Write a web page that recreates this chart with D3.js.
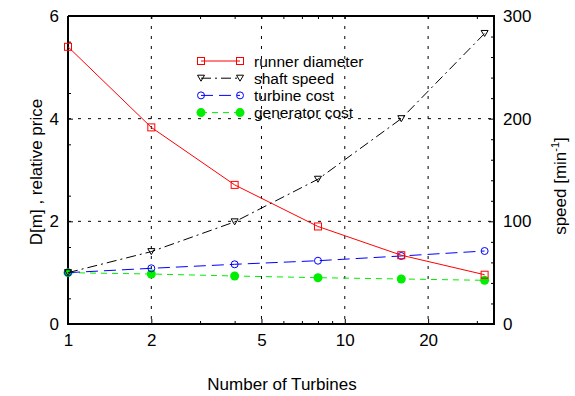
<!DOCTYPE html>
<html>
<head>
<meta charset="utf-8">
<style>
  body { margin: 0; background: #fff; }
  svg text { font-family: "Liberation Sans", Arial, sans-serif; fill: #000; }
</style>
</head>
<body>
<svg id="chart" width="575" height="396"></svg>
<script src="https://d3js.org/d3.v7.min.js"></script>
<script>
var turbines = [1, 2, 4, 8, 16, 32];
var runnerDiameter = [5.40, 3.83, 2.71, 1.90, 1.34, 0.96];
var shaftSpeed = [50, 70.5, 99.5, 141, 200, 283];
var turbineCost = [1.0, 1.085, 1.163, 1.233, 1.325, 1.422];
var generatorCost = [1.0, 0.974, 0.935, 0.902, 0.877, 0.851];
var xTicks = [1, 2, 5, 10, 20];
var xMinor = [3, 4, 6, 7, 8, 9, 30];
var leftTicks = [0, 2, 4, 6];
var rightTicks = [0, 100, 200, 300];

var svg = d3.select("#chart"),
    margin = {top: 16, right: 81, bottom: 72, left: 68},
    width = +svg.attr("width") - margin.left - margin.right,
    height = +svg.attr("height") - margin.top - margin.bottom,
    g = svg.append("g").attr("transform", "translate(" + margin.left + "," + margin.top + ")");

var x = d3.scaleLog().domain([1, 34.6]).range([0, width]);
var yL = d3.scaleLinear().domain([0, 6]).range([height, 0]);
var yR = d3.scaleLinear().domain([0, 300]).range([height, 0]);

// grid
g.append("g").selectAll("line").data(xTicks.slice(1))
  .enter().append("line")
    .attr("x1", function(d) { return x(d); }).attr("x2", function(d) { return x(d); })
    .attr("y1", 0).attr("y2", height)
    .attr("stroke", "#000").attr("stroke-width", 1).attr("stroke-dasharray", "3,7");
g.append("g").selectAll("line").data([2, 4])
  .enter().append("line")
    .attr("y1", function(d) { return yL(d); }).attr("y2", function(d) { return yL(d); })
    .attr("x1", 0).attr("x2", width)
    .attr("stroke", "#000").attr("stroke-width", 1).attr("stroke-dasharray", "3,7");

// axes
function style(sel) {
  sel.select(".domain").remove();
  sel.selectAll("line").attr("stroke", "#000");
  sel.selectAll("text").style("font-size", "17px");
}
g.append("g").attr("transform", "translate(0," + height + ")")
  .call(d3.axisBottom(x).tickValues(xTicks).tickFormat(d3.format("d")).tickSizeInner(-5).tickPadding(10))
  .call(style);
g.append("g").attr("transform", "translate(0," + height + ")")
  .call(d3.axisBottom(x).tickValues(xMinor).tickFormat("").tickSizeInner(-3))
  .call(style);
g.append("g")
  .call(d3.axisTop(x).tickValues(xTicks.concat(xMinor)).tickFormat("").tickSizeInner(-3))
  .call(style);
g.append("g")
  .call(d3.axisLeft(yL).tickValues(leftTicks).tickFormat(d3.format("d")).tickSizeInner(-5).tickPadding(9))
  .call(style);
g.append("g")
  .call(d3.axisLeft(yL).tickValues(d3.range(0.5, 6, 1)).tickFormat("").tickSizeInner(-3))
  .call(style);
g.append("g").attr("transform", "translate(" + width + ",0)")
  .call(d3.axisRight(yR).tickValues(rightTicks).tickFormat(d3.format("d")).tickSizeInner(-5).tickPadding(9))
  .call(style);
g.append("g").attr("transform", "translate(" + width + ",0)")
  .call(d3.axisRight(yR).tickValues(d3.range(20, 300, 20).filter(function(v) { return v % 100; })).tickFormat("").tickSizeInner(-3))
  .call(style);

// frame
g.append("path")
  .attr("d", "M0,0V" + height + "H" + width + "V0H0")
  .attr("fill", "none").attr("stroke", "#000").attr("stroke-width", 2);

// series
var series = [
  {name: "runner diameter", values: runnerDiameter, y: yL, color: "#ff0000", dash: null, marker: "square"},
  {name: "shaft speed", values: shaftSpeed, y: yR, color: "#000000", dash: "10,4,2,4", marker: "triangle"},
  {name: "turbine cost", values: turbineCost, y: yL, color: "#0000ff", dash: "12,6", marker: "circle"},
  {name: "generator cost", values: generatorCost, y: yL, color: "#00ee00", dash: "6,5", marker: "dot"}
];

function marker(sel, s, cx, cy) {
  if (s.marker == "square") {
    sel.append("rect").attr("x", cx - 3.5).attr("y", cy - 3.5).attr("width", 7).attr("height", 7)
      .attr("fill", "none").attr("stroke", s.color).attr("stroke-width", 1);
  } else if (s.marker == "triangle") {
    sel.append("path").attr("d", "M" + (cx - 3.5) + "," + (cy - 3) + "h7l-3.5,6z")
      .attr("fill", "none").attr("stroke", s.color).attr("stroke-width", 1);
  } else if (s.marker == "circle") {
    sel.append("circle").attr("cx", cx).attr("cy", cy).attr("r", 3.5)
      .attr("fill", "none").attr("stroke", s.color).attr("stroke-width", 1);
  } else {
    sel.append("circle").attr("cx", cx).attr("cy", cy).attr("r", 4.5)
      .attr("fill", s.color).attr("stroke", "none");
  }
}

series.slice().reverse().forEach(function(s) {
  var pts = turbines.map(function(t, i) { return [x(t), s.y(s.values[i])]; });
  g.append("path")
    .datum(pts)
    .attr("fill", "none")
    .attr("stroke", s.color)
    .attr("stroke-width", 1)
    .attr("stroke-dasharray", s.dash)
    .attr("d", d3.line());
  var mg = g.append("g");
  pts.forEach(function(p) { marker(mg, s, p[0], p[1]); });
});

// legend
var legend = svg.append("g").attr("transform", "translate(201,61)");
series.forEach(function(s, i) {
  var row = legend.append("g").attr("transform", "translate(0," + (i * 17.2) + ")");
  row.append("line").attr("x1", 0).attr("x2", 39).attr("y1", 0).attr("y2", 0)
    .attr("stroke", s.color).attr("stroke-width", 1).attr("stroke-dasharray", s.dash);
  marker(row, s, 0, 0);
  marker(row, s, 39, 0);
  row.append("text").attr("x", 53).attr("y", 5.5).style("font-size", "15.5px").text(s.name);
});

// titles
svg.append("text")
  .attr("x", 282).attr("y", 390)
  .attr("text-anchor", "middle").style("font-size", "17px")
  .text("Number of Turbines");
svg.append("text")
  .attr("transform", "translate(42,172) rotate(-90)")
  .attr("text-anchor", "middle").style("font-size", "17px")
  .text("D[m] , relative price");
var rt = svg.append("text")
  .attr("transform", "translate(566,186) rotate(-90)")
  .attr("text-anchor", "middle").style("font-size", "17px");
rt.append("tspan").text("speed [min");
rt.append("tspan").attr("dy", -7).style("font-size", "11px").text("-1");
rt.append("tspan").attr("dy", 7).text("]");
</script>
</body>
</html>
